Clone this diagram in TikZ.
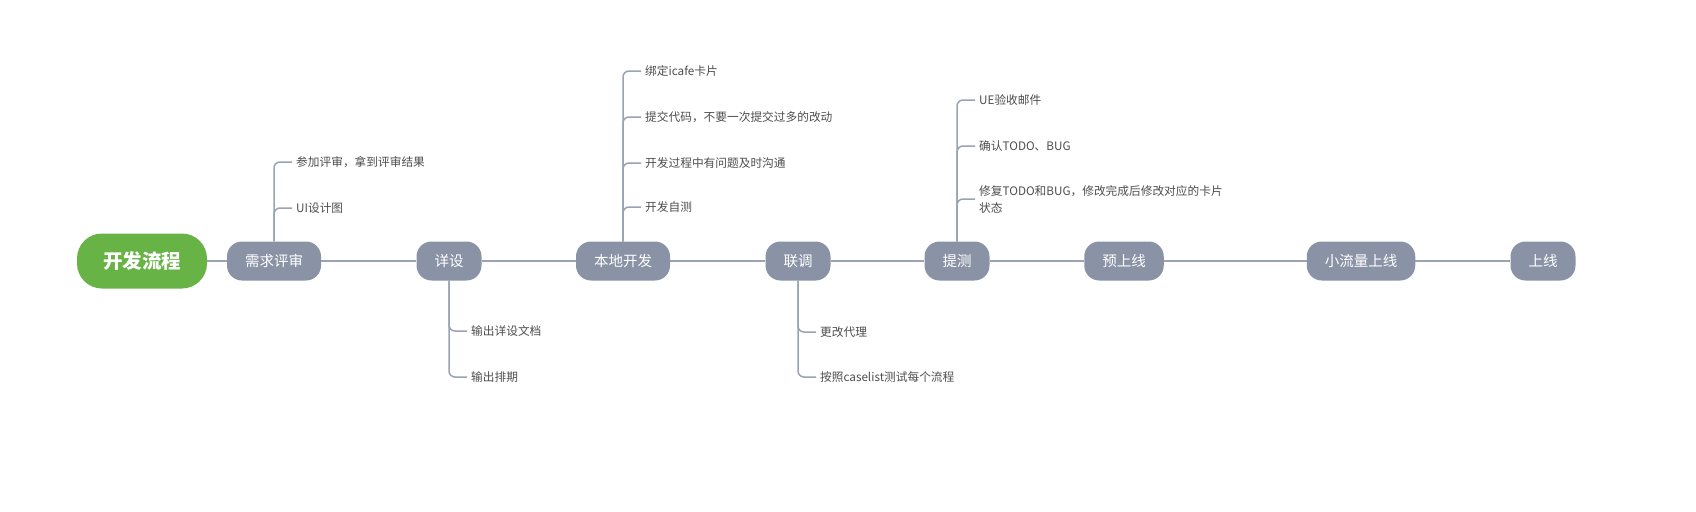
\documentclass[tikz,border=0pt]{standalone}
\usepackage{fontspec}
\setmainfont{Noto Sans CJK SC}
\usepackage{tikz}
\definecolor{stagegray}{HTML}{8A93A5}
\definecolor{rootgreen}{HTML}{67B346}
\definecolor{linegray}{HTML}{9AA3B3}
\definecolor{textgray}{HTML}{4D4D4D}

\begin{document}
\begin{tikzpicture}[x=1pt, y=-1pt,
    root/.style={rounded corners=25pt, fill=rootgreen, text=white, font=\fontsize{19.5}{22}\selectfont\bfseries, minimum height=55pt, inner xsep=26pt},
    stage/.style={rounded corners=15pt, fill=stagegray, text=white, font=\fontsize{14.5}{17}\selectfont, minimum height=39pt, inner xsep=18pt},
    item/.style={anchor=west, text=textgray, font=\fontsize{11.7}{17}\selectfont, inner xsep=4pt, align=left},
    link/.style={draw=linegray, line width=1.8pt},
    branch/.style={draw=linegray, line width=1.5pt, rounded corners=6pt, to path={(\tikztostart) |- (\tikztotarget)}}]
    \useasboundingbox (0,0) rectangle (1696,511);
    \node[root] (0) at (142,261) {开发流程};
    \node[stage] (1) at (274,261) {需求评审};
    \node[stage] (2) at (449,261) {详设};
    \node[stage] (3) at (623,261) {本地开发};
    \node[stage] (4) at (798,261) {联调};
    \node[stage] (5) at (957,261) {提测};
    \node[stage] (6) at (1124,261) {预上线};
    \node[stage] (7) at (1361,261) {小流量上线};
    \node[stage] (8) at (1543,261) {上线};
    % sub items
    \node[item] (1a) at (292,162) {参加评审，拿到评审结果};
    \node[item] (1b) at (292,208) {UI设计图};
    \node[item] (2a) at (467,331) {输出详设文档};
    \node[item] (2b) at (467,377) {输出排期};
    \node[item] (3a) at (641,71) {绑定icafe卡片};
    \node[item] (3b) at (641,117) {提交代码，不要一次提交过多的改动};
    \node[item] (3c) at (641,163) {开发过程中有问题及时沟通};
    \node[item] (3d) at (641,207) {开发自测};
    \node[item] (4a) at (816,332) {更改代理};
    \node[item] (4b) at (816,377) {按照caselist测试每个流程};
    \node[item] (5a) at (975,100) {UE验收邮件};
    \node[item] (5b) at (975,146) {确认TODO、BUG};
    \node[item] (5c) at (975,199) {修复TODO和BUG，修改完成后修改对应的卡片\\状态};
    \path[link]
    (0) edge (1)
    (1) edge (2)
    (2) edge (3)
    (3) edge (4)
    (4) edge (5)
    (5) edge (6)
    (6) edge (7)
    (7) edge (8);
    \path
    (1.north) edge[branch] (1a.west)
              edge[branch] (1b.west)
    (2.south) edge[branch] (2a.west)
              edge[branch] (2b.west)
    (3.north) edge[branch] (3a.west)
              edge[branch] (3b.west)
              edge[branch] (3c.west)
              edge[branch] (3d.west)
    (4.south) edge[branch] (4a.west)
              edge[branch] (4b.west)
    (5.north) edge[branch] (5a.west)
              edge[branch] (5b.west)
              edge[branch] (5c.west);
\end{tikzpicture}
\end{document}
